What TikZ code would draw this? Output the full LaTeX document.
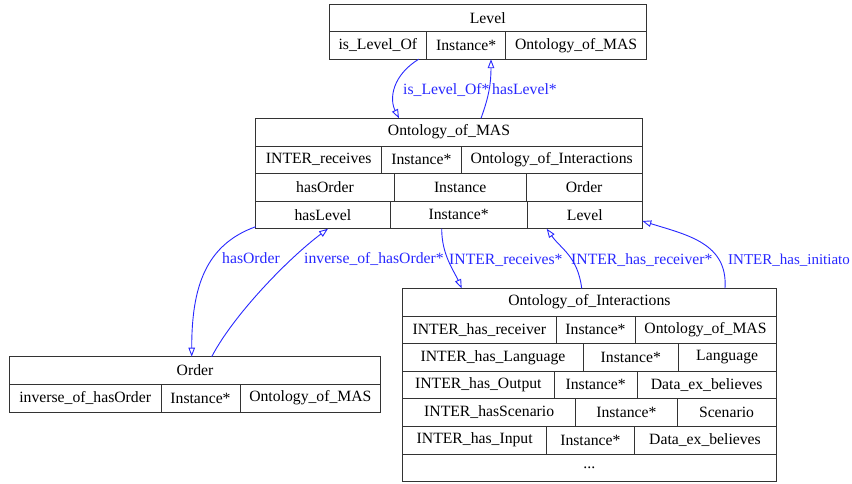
\documentclass[tikz,border=0pt]{standalone}
\usepackage{fontspec}
\setmainfont{Liberation Serif}
\usepackage{xcolor}
\usetikzlibrary{arrows.meta}
\definecolor{linkblue}{RGB}{40,40,255}

\begin{document}
\begin{tikzpicture}[x=1pt, y=-1pt,
        cell/.style={draw=black!80, line width=0.8pt, rectangle, inner sep=0pt, outer sep=0pt,
            minimum height=27.6pt, anchor=north west, font=\fontsize{15.7}{18}\selectfont},
        rel/.style={draw=linkblue, line width=0.9pt, -{Triangle[open, length=9pt, width=6.5pt]}},
        lbl/.style={text=linkblue, anchor=base west, inner sep=0pt, font=\fontsize{15.7}{18}\selectfont}]
        \useasboundingbox (0,0) rectangle (852,483);

        % Level
        \node[cell, minimum width=317.5pt] (lvl) at (329,4) {Level};
        \node[cell, minimum width=97.7pt] (lvlA) at (329,31.6) {is\_Level\_Of};
        \node[cell, minimum width=79pt] (lvlB) at (426.7,31.6) {Instance*};
        \node[cell, minimum width=140.8pt] (lvlC) at (505.7,31.6) {Ontology\_of\_MAS};

        % Ontology_of_MAS
        \node[cell, minimum width=386.6pt] (mas) at (255.7,118.3) {Ontology\_of\_MAS};
        \node[cell, minimum width=126pt] (masA) at (255.7,145.9) {INTER\_receives};
        \node[cell, minimum width=79.3pt] (masB) at (381.7,145.9) {Instance*};
        \node[cell, minimum width=181.3pt] (masC) at (461,145.9) {Ontology\_of\_Interactions};
        \node[cell, minimum width=138.6pt] (masD) at (255.7,173.5) {hasOrder};
        \node[cell, minimum width=131.7pt] (masE) at (394.3,173.5) {Instance};
        \node[cell, minimum width=116.3pt] (masF) at (526,173.5) {Order};
        \node[cell, minimum width=134.3pt] (masG) at (255.7,201.1) {hasLevel};
        \node[cell, minimum width=137.3pt] (masH) at (390,201.1) {Instance*};
        \node[cell, minimum width=115pt] (masI) at (527.3,201.1) {Level};

        % Ontology_of_Interactions
        \node[cell, minimum width=373.3pt] (ia) at (402.7,288.3) {Ontology\_of\_Interactions};
        \node[cell, minimum width=153.3pt] (iaA) at (402.7,315.9) {INTER\_has\_receiver};
        \node[cell, minimum width=79pt] (iaB) at (556,315.9) {Instance*};
        \node[cell, minimum width=141pt] (iaC) at (635,315.9) {Ontology\_of\_MAS};
        \node[cell, minimum width=180.6pt] (iaD) at (402.7,343.5) {INTER\_has\_Language};
        \node[cell, minimum width=95pt] (iaE) at (583.3,343.5) {Instance*};
        \node[cell, minimum width=97.7pt] (iaF) at (678.3,343.5) {Language};
        \node[cell, minimum width=151.3pt] (iaG) at (402.7,371.1) {INTER\_has\_Output};
        \node[cell, minimum width=83.3pt] (iaH) at (554,371.1) {Instance*};
        \node[cell, minimum width=138.7pt] (iaI) at (637.3,371.1) {Data\_ex\_believes};
        \node[cell, minimum width=173pt] (iaJ) at (402.7,398.7) {INTER\_hasScenario};
        \node[cell, minimum width=101.3pt] (iaK) at (575.7,398.7) {Instance*};
        \node[cell, minimum width=99pt] (iaL) at (677,398.7) {Scenario};
        \node[cell, minimum width=144pt] (iaM) at (402.7,426.3) {INTER\_has\_Input};
        \node[cell, minimum width=87.3pt] (iaN) at (546.7,426.3) {Instance*};
        \node[cell, minimum width=142pt] (iaO) at (634,426.3) {Data\_ex\_believes};
        \node[cell, minimum width=373.3pt] (iaP) at (402.7,453.9) {...};

        % Order
        \node[cell, minimum width=371.4pt] (ord) at (9.3,356.7) {Order};
        \node[cell, minimum width=151.7pt] (ordA) at (9.3,384.3) {inverse\_of\_hasOrder};
        \node[cell, minimum width=79pt] (ordB) at (161,384.3) {Instance*};
        \node[cell, minimum width=140.7pt] (ordC) at (240,384.3) {Ontology\_of\_MAS};

        % Relations
        \draw[rel] ([xshift=-8pt]lvlA.south east) .. controls +(-26,16) and +(-10,-20) .. ([xshift=143.3pt]mas.north west);
        \draw[rel] ([xshift=225.3pt]mas.north west) .. controls +(8,-22) and +(0,24) .. ([xshift=-14.7pt]lvlB.south east);
        \draw[rel] ([yshift=2pt]masG.south west) .. controls +(-50,18) and +(0,-70) .. ([xshift=182.4pt]ord.north west);
        \draw[rel] ([xshift=202.4pt]ord.north west) .. controls +(22,-42) and +(-40,30) .. ([xshift=72.3pt]masG.south west);
        \draw[rel] ([xshift=51.7pt]masH.south west) .. controls +(0,26) and +(-8,-18) .. ([xshift=59pt]ia.north west);
        \draw[rel] ([xshift=179pt]ia.north west) .. controls +(-4,-32) and +(14,20) .. ([xshift=19.4pt]masI.south west);
        \draw[rel] ([xshift=322.3pt]ia.north west) .. controls +(3,-45) and +(45,14) .. ([yshift=7.7pt]masI.south east);

        % Relation labels
        \node[lbl] (lIsLevelOf) at (403,94) {is\_Level\_Of*};
        \node[lbl] (lHasLevel) at (492,94) {hasLevel*};
        \node[lbl] (lHasOrder) at (222,263) {hasOrder};
        \node[lbl] (lInvOrder) at (304,263) {inverse\_of\_hasOrder*};
        \node[lbl] (lReceives) at (449,264) {INTER\_receives*};
        \node[lbl] (lHasReceiver) at (571,264) {INTER\_has\_receiver*};
        \node[lbl, font=\fontsize{15}{18}\selectfont] (lInitiator) at (728,264) {INTER\_has\_initiato};
    \end{tikzpicture}
\end{document}
